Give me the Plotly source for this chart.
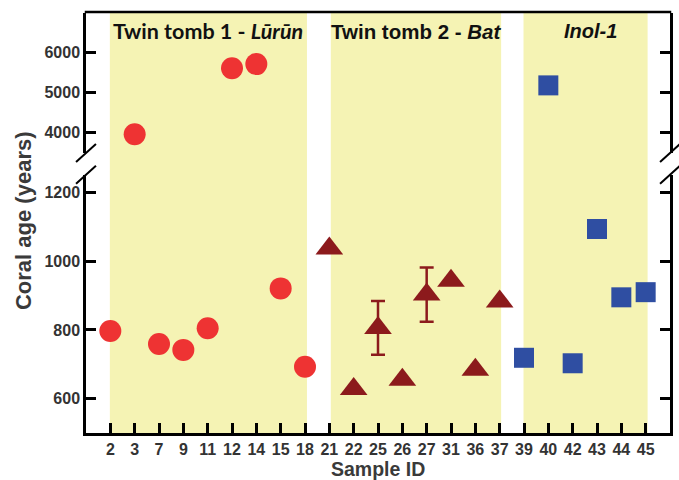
import plotly.graph_objects as go

# ---------------- data ----------------
sample_ids = ["2", "3", "7", "9", "11", "12", "14", "15", "18", "21", "22", "25",
              "26", "27", "31", "36", "37", "39", "40", "42", "43", "44", "45"]

tt1_ids = ["2", "3", "7", "9", "11", "12", "14", "15", "18"]
tt1_age = [797, 3950, 759, 742, 805, 5610, 5715, 921, 693]

tt2_ids = ["21", "22", "25", "26", "27", "31", "36", "37"]
tt2_age = [1037, 628, 806, 655, 903, 943, 684, 883]
tt2_err = [None, None, 78, None, 79, None, None, None]

inol_ids = ["39", "40", "42", "43", "44", "45"]
inol_age = [719, 5180, 703, 1094, 895, 910]

group_labels = ["Twin tomb 1 - <i>Lūrūn</i>", "Twin tomb 2 - <i>Bat</i>", "<i>Inol-1</i>"]

low_ticks = [600, 800, 1000, 1200]
high_ticks = [4000, 5000, 6000]

# ---------------- style ----------------
W, H = 679, 480
ML, MR, MT, MB = 86, 6, 13, 47
PW, PH = W - ML - MR, H - MT - MB
LOW_RANGE = [500, 1252]
HIGH_RANGE = [3480, 7000]
SPLIT = 2000
LOW_DOM = [0, 0.615]
HIGH_DOM = [0.6667, 1]

SHADE = "#f5f3b4"
RED = "#ee3333"
DARKRED = "#8c1a1c"
BLUE = "#2f4ea2"
TICKCOL = "#333333"
LW = 2.5

fig = go.Figure()


def split(ids, vals):
    lo = [(i, v) for i, v in zip(ids, vals) if v < SPLIT]
    hi = [(i, v) for i, v in zip(ids, vals) if v >= SPLIT]
    return lo, hi


def add_series(ids, vals, marker):
    lo, hi = split(ids, vals)
    for pts, ya in ((lo, "y"), (hi, "y2")):
        if pts:
            fig.add_trace(go.Scatter(
                x=[p[0] for p in pts], y=[p[1] for p in pts],
                mode="markers", marker=marker, xaxis="x", yaxis=ya,
                showlegend=False, hoverinfo="x+y"))


# error bars (drawn beneath the triangles)
e_ids = [i for i, e in zip(tt2_ids, tt2_err) if e is not None]
e_vals = [v for v, e in zip(tt2_age, tt2_err) if e is not None]
e_errs = [e for e in tt2_err if e is not None]
fig.add_trace(go.Scatter(
    x=e_ids, y=e_vals, mode="markers",
    marker=dict(size=2, color="rgba(0,0,0,0)"),
    error_y=dict(type="data", array=e_errs, visible=True, color=DARKRED,
                 thickness=2.5, width=7),
    xaxis="x", yaxis="y", showlegend=False, hoverinfo="skip"))

add_series(tt1_ids, tt1_age, dict(symbol="circle", size=22, color=RED, line=dict(width=0)))
add_series(tt2_ids, tt2_age, dict(symbol="triangle-up", size=24, color=DARKRED, line=dict(width=0)))
add_series(inol_ids, inol_age, dict(symbol="square", size=20, color=BLUE, line=dict(width=0)))

# ---------------- shaded groups ----------------
spans = [(-0.02, 8.08), (9.06, 16.06), (16.98, 22.08)]
shapes = []
for x0, x1 in spans:
    shapes.append(dict(type="rect", xref="x", yref="paper", x0=x0, x1=x1, y0=0, y1=1,
                       fillcolor=SHADE, line=dict(width=0), layer="below"))

# top frame line
shapes.append(dict(type="line", xref="paper", yref="paper", x0=-LW / 2 / PW, x1=1 + LW / 2 / PW,
                   y0=1 + 1 / PH, y1=1 + 1 / PH, line=dict(color="black", width=LW)))

# axis break marks ("/" pairs) on left and right axes
for xa in (0, 1):
    for yc in (LOW_DOM[1], HIGH_DOM[0]):
        dx = 10 / PW
        dy = 10 / PH
        shapes.append(dict(type="line", xref="paper", yref="paper",
                           x0=xa - dx, y0=yc - dy * 0.9, x1=xa + dx, y1=yc + dy * 0.9,
                           line=dict(color="black", width=2)))

# ---------------- annotations ----------------
ann = []
centers = [(s[0] + s[1]) / 2 for s in spans]
centers[2] += 0.2
fonts = [dict(family="Lato", size=21.5, color="#111111", weight="bold"),
         dict(family="Liberation Sans", size=20.5, color="#111111", weight="bold"),
         dict(family="Liberation Sans", size=20, color="#111111", weight="bold")]
for c, lab, f in zip(centers, group_labels, fonts):
    ann.append(dict(x=c, y=(H - MB - 31.5) / PH, xref="x", yref="paper",
                    text=lab, showarrow=False, font=f, xanchor="center", yanchor="middle"))

ann.append(dict(x=(22.7 - ML) / PW, y=(H - MB - 221) / PH, xref="paper", yref="paper",
                text="Coral age (years)", textangle=-90, showarrow=False,
                font=dict(family="Liberation Sans", size=22, color="#3a3a3a", weight="bold"),
                xanchor="center", yanchor="middle"))
ann.append(dict(x=0.5, y=(H - MB - 469) / PH, xref="paper", yref="paper",
                text="Sample ID", showarrow=False,
                font=dict(family="Liberation Sans", size=19.5, color="#3a3a3a", weight="bold"),
                xanchor="center", yanchor="middle"))

tickfont = dict(family="Liberation Sans", size=16, color=TICKCOL, weight="bold")
common_y = dict(showline=True, linecolor="black", linewidth=LW, mirror="ticks",
                ticks="inside", ticklen=10, tickwidth=LW, tickcolor="black",
                showgrid=False, zeroline=False, tickfont=tickfont, anchor="x",
                ticklabelstandoff=0)

fig.update_layout(
    width=W, height=H,
    margin=dict(l=ML, r=MR, t=MT, b=MB, pad=0),
    paper_bgcolor="white", plot_bgcolor="white",
    xaxis=dict(type="category", categoryorder="array", categoryarray=sample_ids,
               range=[-1, 23], showline=True, linecolor="black", linewidth=LW,
               ticks="inside", ticklen=10, tickwidth=LW, tickcolor="black",
               showgrid=False, zeroline=False, tickfont=tickfont, anchor="y",
               ticklabelstandoff=0),
    yaxis=dict(domain=LOW_DOM, range=LOW_RANGE, tickvals=low_ticks, **common_y),
    yaxis2=dict(domain=HIGH_DOM, range=HIGH_RANGE, tickvals=high_ticks, **common_y),
    shapes=shapes, annotations=ann, showlegend=False,
)

fig.write_html("out.html", config={"displayModeBar": False},
               post_script="document.body.style.margin='0px';")
